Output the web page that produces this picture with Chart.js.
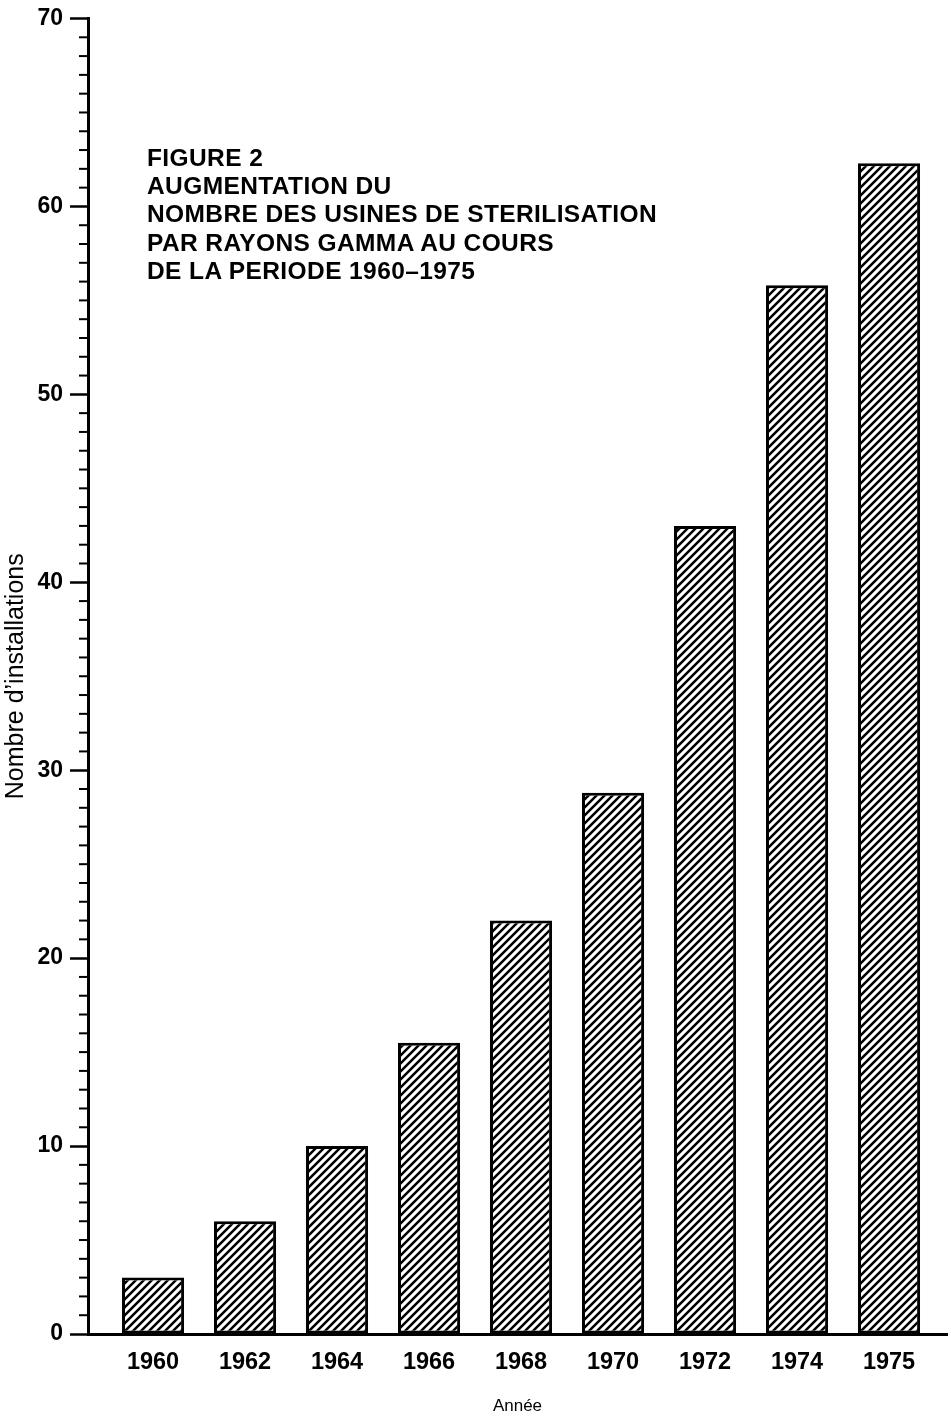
<!DOCTYPE html>
<html>
<head>
<meta charset="utf-8">
<script src="https://cdn.jsdelivr.net/npm/chart.js@4.4.1/dist/chart.umd.min.js"></script>
<style>
  html, body { margin: 0; padding: 0; background: #fff; }
  #wrap { position: relative; width: 951px; height: 1417px; }
  #caption {
    position: absolute;
    left: 147px;
    top: 144px;
    font-family: "Liberation Sans", Arial, sans-serif;
    font-weight: bold;
    font-size: 24.5px;
    line-height: 28.2px;
    letter-spacing: 0.4px;
    color: #000;
    white-space: pre;
  }
</style>
</head>
<body>
<div id="wrap">
  <canvas id="chart" width="951" height="1417"></canvas>
  <div id="caption">FIGURE 2
AUGMENTATION DU
NOMBRE DES USINES DE STERILISATION
PAR RAYONS GAMMA AU COURS
DE LA PERIODE 1960–1975</div>
</div>

<script>
// ---- data ----
const years = ["1960", "1962", "1964", "1966", "1968", "1970", "1972", "1974", "1975"];
const plants = [3, 6, 10, 15.5, 22, 28.8, 43, 55.8, 62.3];
const yMin = 0;
const yMax = 70;
const yMajorStep = 10;

// hatch fill "////"
function makeHatch() {
  const s = 8;
  const c = document.createElement("canvas");
  c.width = s; c.height = s;
  const g = c.getContext("2d");
  g.fillStyle = "#fff";
  g.fillRect(0, 0, s, s);
  g.strokeStyle = "#000";
  g.lineWidth = 2.5;
  g.beginPath();
  g.moveTo(-1, s + 1); g.lineTo(s + 1, -1);
  g.moveTo(-1, 1);     g.lineTo(1, -1);
  g.moveTo(s - 1, s + 1); g.lineTo(s + 1, s - 1);
  g.stroke();
  return g.createPattern(c, "repeat");
}

// short minor ticks every unit on the y axis
const minorTicks = {
  id: "minorTicks",
  afterDraw(chart) {
    const y = chart.scales.y;
    const ctx = chart.ctx;
    ctx.save();
    ctx.strokeStyle = "#000";
    ctx.lineWidth = 2;
    y.ticks.forEach(t => {
      if (t.value % yMajorStep === 0) return;
      const py = y.getPixelForValue(t.value);
      ctx.beginPath();
      ctx.moveTo(y.right - 9, py);
      ctx.lineTo(y.right, py);
      ctx.stroke();
    });
    ctx.restore();
  }
};

const ctx = document.getElementById("chart");

new Chart(ctx, {
  type: "bar",
  data: {
    datasets: [{
      data: plants.map((v, i) => ({ x: i, y: v })),
      backgroundColor: makeHatch(),
      borderColor: "#000",
      borderWidth: 3,
      borderSkipped: false,
      categoryPercentage: 1,
      barPercentage: 0.675
    }]
  },
  options: {
    responsive: false,
    animation: false,
    layout: { padding: { top: 16, right: 4, left: 0, bottom: 0 } },
    plugins: {
      legend: { display: false },
      tooltip: { enabled: false }
    },
    scales: {
      x: {
        type: "linear",
        offset: false,
        min: -0.707,
        max: 8.63,
        afterBuildTicks: scale => {
          scale.ticks = years.map((y, i) => ({ value: i }));
        },
        afterFit: scale => { scale.height = 83; },
        grid: { display: false, drawTicks: false, offset: false },
        border: { display: true, color: "#000", width: 3 },
        ticks: {
          padding: 14,
          color: "#000",
          font: { family: "Liberation Sans", size: 23.5, weight: "bold" },
          callback: v => years[v]
        },
        title: {
          display: true,
          text: "Année",
          color: "#000",
          padding: { top: 4, bottom: 0 },
          font: { family: "Liberation Sans", size: 17 }
        }
      },
      y: {
        min: yMin,
        max: yMax,
        afterFit: scale => { scale.width = 88; },
        grid: {
          display: true,
          drawOnChartArea: false,
          drawTicks: true,
          tickLength: 18,
          tickWidth: 2.5,
          tickColor: c => (c.tick && c.tick.value % yMajorStep === 0) ? "#000" : "rgba(0,0,0,0)"
        },
        border: { display: true, color: "#000", width: 3 },
        ticks: {
          stepSize: 1,
          autoSkip: false,
          padding: 7,
          color: "#000",
          font: { family: "Liberation Sans", size: 23, weight: "bold", lineHeight: 1 },
          callback: v => (v % yMajorStep === 0 ? String(v) : "")
        },
        title: {
          display: true,
          text: "Nombre d’installations",
          color: "#000",
          padding: { top: 1, bottom: 0 },
          font: { family: "Liberation Sans", size: 25 }
        }
      }
    }
  },
  plugins: [minorTicks]
});
</script>
</body>
</html>
